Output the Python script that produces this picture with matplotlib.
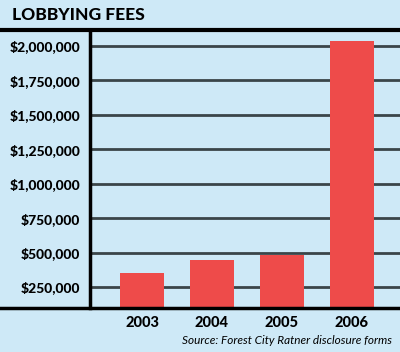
import matplotlib
matplotlib.use("Agg")
import matplotlib.pyplot as plt
from matplotlib.lines import Line2D

years = ["2003", "2004", "2005", "2006"]
fees = [354000, 446000, 482000, 2034000]
tick_values = [250000, 500000, 750000, 1000000, 1250000, 1500000, 1750000, 2000000]
tick_labels = ["$250,000", "$500,000", "$750,000", "$1,000,000", "$1,250,000",
               "$1,500,000", "$1,750,000", "$2,000,000"]

bg = "#cee9f7"
bar_color = "#ee4b4a"
W, H = 400, 352

plt.rcParams['font.family'] = ['Lato', 'DejaVu Sans']
fig = plt.figure(figsize=(W/100, H/100), dpi=100, facecolor=bg)
ax = fig.add_axes([90/W, 1-308/H, (W-90)/W, (308-30)/H])
ax.set_facecolor(bg)

x = list(range(len(years)))
ax.bar(x, fees, width=0.63, color=bar_color, zorder=3)
ax.set_xlim(-0.743, 3.686)
ax.set_ylim(97000, 2116000)

ax.set_yticks(tick_values)
ax.set_yticklabels(tick_labels, fontsize=10, fontweight='black')
ax.set_xticks(x)
ax.set_xticklabels(years, fontsize=10.5, fontweight='black')
ax.tick_params(axis='both', length=0, colors='black')
ax.tick_params(axis='y', pad=7)
ax.tick_params(axis='x', pad=6)
ax.yaxis.grid(True, color='#3a4549', linewidth=2, zorder=1)
ax.set_axisbelow(True)
for s in ['top', 'right', 'bottom']:
    ax.spines[s].set_visible(False)
ax.spines['left'].set_linewidth(2.5)
ax.spines['left'].set_color('black')

# full-width rules
fig.add_artist(Line2D([0, 1], [1-30/H, 1-30/H], color='black', linewidth=3, transform=fig.transFigure))
fig.add_artist(Line2D([0, 1], [1-308/H, 1-308/H], color='black', linewidth=2.5, transform=fig.transFigure))

fig.text(12/W, 1-15/H, "LOBBYING FEES", fontsize=12.5, fontweight='black', ha='left', va='center')
fig.text(392/W, 1-340/H, "Source: Forest City Ratner disclosure forms", fontsize=8.5,
         fontstyle='italic', ha='right', va='center')

fig.savefig("out.png", dpi=100, facecolor=bg)
